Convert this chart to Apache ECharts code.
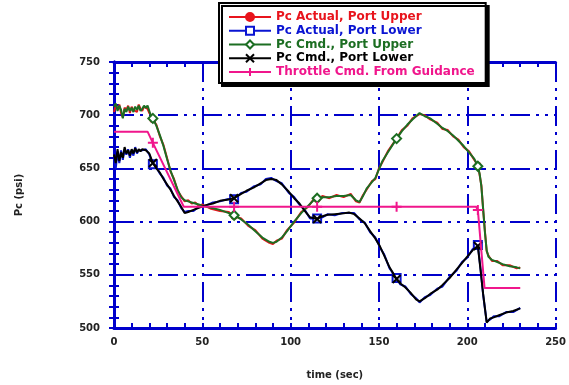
<!DOCTYPE html>
<html>
<head>
<meta charset="utf-8">
<script src="https://cdn.jsdelivr.net/npm/echarts@6/dist/echarts.min.js"></script>
<style>
  html, body { margin: 0; padding: 0; background: #fff; }
  #chart { width: 569px; height: 385px; }
</style>
</head>
<body>
<div id="chart"></div>
<script>
// legend names
var seriesNames = ['Pc Actual, Port Upper', 'Pc Actual, Port Lower', 'Pc Cmd., Port Upper', 'Pc Cmd., Port Lower', 'Throttle Cmd. From Guidance'];
// times where the marker symbols sit
var markerTimes = [22, 68, 115, 160, 206];
var xTicks = [0, 50, 100, 150, 200, 250];
var yTicks = [500, 550, 600, 650, 700, 750];

// [time (sec), Pc (psi)]
var pcActualUpper = [[0,703],[1,709],[2,706],[3,710],[4,702],[5,698],[6,707],[7,705],[8,709],[9,702],[10,708],[11,705],[12,706],[13,703],[14,710],[15,706],[16,704],[17,708],[18,708],[19,706],[20,702],[21,700],[22,696],[24,691],[26,680],[28,672],[30,660],[32,647],[34,640],[36,629],[38,624],[40,619],[42,620],[44,617],[46,618],[48,615],[50,616],[55,612],[60,610],[65,609],[68,605],[72,603],[76,596],[80,592],[84,584],[88,580],[90,579],[92,582],[95,584],[98,592],[102,599],[106,609],[110,614],[113,621],[115,621],[118,624],[122,622],[126,625],[130,623],[134,626],[137,619],[139,618],[141,625],[143,630],[146,638],[148,640],[150,650],[152,656],[155,666],[160,678],[163,686],[166,690],[169,697],[173,701],[176,700],[179,696],[183,693],[186,687],[189,686],[192,680],[195,677],[198,670],[201,666],[204,658],[206,653],[207,644],[208,634],[209,611],[210,591],[211,572],[212,568],[214,563],[217,563],[220,559],[224,559],[228,556],[230,557]];
var pcActualLower = [[0,660],[1,650],[2,666],[3,655],[4,667],[5,658],[6,668],[7,663],[8,668],[9,660],[10,667],[11,662],[12,670],[13,664],[14,667],[15,667],[16,667],[18,668],[20,663],[22,654],[24,651],[26,645],[28,641],[30,634],[32,631],[34,623],[36,620],[38,613],[40,609],[42,610],[45,610],[48,614],[52,615],[56,618],[60,619],[64,621],[68,621],[72,627],[75,628],[79,633],[83,635],[86,640],[89,641],[92,638],[95,636],[99,627],[102,623],[105,616],[108,611],[111,603],[115,603],[118,604],[121,607],[125,606],[129,608],[133,608],[136,608],[139,602],[142,599],[145,590],[148,585],[150.5,576],[153,569],[156,556],[160,547],[162,541],[165,539],[168,532],[171,528],[173,524],[176,529],[179,531],[183,537],[186,539],[190,548],[194,554],[197,562],[200,566],[203,574],[206,578],[207.5,556],[209,531],[211,506],[213,508],[215,511],[218,511],[222,515],[226,515],[230,519]];
var pcCmdUpper = [[0,708],[1,711],[2,704],[3,709],[4,705],[5,697],[6,706],[7,703],[8,708],[9,704],[10,707],[11,703],[12,708],[13,705],[14,709],[15,704],[16,706],[17,709],[18,707],[19,709],[20,704],[21,699],[22,697],[24,690],[26,681],[28,671],[30,659],[32,648],[34,639],[36,630],[38,623],[40,620],[42,619],[44,618],[46,617],[48,616],[50,615],[55,613],[60,611],[65,608],[68,606],[72,602],[76,597],[80,591],[84,585],[88,581],[90,580],[92,581],[95,585],[98,591],[102,600],[106,608],[110,615],[113,620],[115,622],[118,623],[122,623],[126,624],[130,624],[134,625],[137,620],[139,618.5],[141,624],[143,631],[146,637],[148,641],[150,649],[152,657],[155,665],[160,678],[163,685],[166,691],[169,696],[173,702],[176,699],[179,697],[183,692],[186,688],[189,685],[192,681],[195,676],[198,671],[201,665],[204,659],[206,652],[207,645],[208,633],[209,612],[210,590],[211,573],[212,567],[214,564],[217,562],[220,560],[224,558],[228,557],[230,556]];
var pcCmdLower = [[0,663],[1,655],[2,668],[3,657],[4,665],[5,660],[6,670],[7,664],[8,667],[9,662],[10,668],[11,664],[12,669],[13,665],[14,668],[15,666],[16,668],[18,667],[20,664],[22,655],[24,650],[26,646],[28,640],[30,635],[32,630],[34,624],[36,619],[38,614],[40,608],[42,609],[45,611],[48,613],[52,615.5],[56,617],[60,619.5],[64,620.5],[68,622],[72,626],[75,629],[79,632],[83,636],[86,639],[89,640],[92,639],[95,635],[99,628],[102,622],[105,617],[108,610],[111,604],[115,602.5],[118,605],[121,606.5],[125,607],[129,607.5],[133,608.5],[136,607],[139,603],[142,598.5],[145,591],[148,584],[150.5,577],[153,568],[156,557],[160,546],[162,542],[165,538],[168,533],[171,527],[173,525],[176,528],[179,532],[183,536],[186,540.5],[190,547],[194,555],[197,561],[200,567],[203,573],[206,577],[207.5,555],[209,532],[211,505],[213,509],[215,510],[218,512],[222,514.5],[226,516],[230,518.5]];
var throttleCmd = [[0,684.5],[19,684.5],[22,674],[39.5,614],[68,614],[115,614],[160,614],[205,614],[206,611],[209.8,537.5],[230,537.5]];

var colors = ['#e8141c', '#0a14d2', '#1c6e22', '#000000', '#f0168c'];
var symbols = ['circle', 'emptyRect', 'emptyDiamond', 'path://M0,0L10,10M10,0L0,10', 'path://M5,0L5,10M0,5L10,5'];
var symbolSizes = [5, 8, 9, 8, 10];
var seriesData = [pcActualUpper, pcActualLower, pcCmdUpper, pcCmdLower, throttleCmd];

var blue = '#0000cc';
var fontFam = '"DejaVu Sans", sans-serif';
var gridDash = [20, 6, 3, 6, 3, 6];

function withMarkers(points) {
  return points.map(function (p) {
    if (markerTimes.indexOf(p[0]) >= 0) return { value: p };
    return { value: p, symbol: 'none' };
  });
}

var chart = echarts.init(document.getElementById('chart'));

var series = seriesData.map(function (pts, i) {
  return {
    name: seriesNames[i],
    type: 'line',
    data: withMarkers(pts),
    symbol: symbols[i],
    symbolSize: symbolSizes[i],
    showSymbol: true,
    animation: false,
    lineStyle: { color: colors[i], width: 2 },
    itemStyle: { color: colors[i], borderColor: colors[i], borderWidth: 2 },
    emphasis: { disabled: true },
    z: 2 + i
  };
});

var sideAxis = {
  axisLine: { show: true, lineStyle: { color: blue, width: 3 } },
  axisTick: { show: true, inside: true, length: 5, lineStyle: { color: blue, width: 2 } },
  minorTick: { show: true, splitNumber: 5, length: 5, lineStyle: { color: blue, width: 2 } },
  axisLabel: { show: false },
  splitLine: { show: false }
};

var option = {
  backgroundColor: '#fff',
  animation: false,
  grid: { left: 114, top: 62, right: 13, bottom: 51 },
  legend: {
    orient: 'vertical',
    left: 219,
    top: 3,
    padding: [8, 11, 5, 9],
    itemWidth: 42,
    itemHeight: 10,
    itemGap: 1.75,
    backgroundColor: '#fff',
    borderColor: '#000',
    borderWidth: 2,
    shadowColor: '#000',
    shadowOffsetX: 3,
    shadowOffsetY: 3,
    shadowBlur: 0,
    selectedMode: false,
    textStyle: { fontFamily: fontFam, fontWeight: 'bold', fontSize: 12, lineHeight: 10 },
    data: seriesNames.map(function (n, i) {
      return { name: n, textStyle: { color: colors[i] } };
    })
  },
  xAxis: [{
    type: 'value',
    min: xTicks[0],
    max: xTicks[xTicks.length - 1],
    interval: 50,
    name: 'time (sec)',
    nameLocation: 'middle',
    nameGap: 42,
    nameTextStyle: { color: '#222', fontFamily: fontFam, fontWeight: 'bold', fontSize: 10 },
    axisLine: { show: true, onZero: false, lineStyle: { color: blue, width: 3 } },
    axisTick: { show: true, inside: true, length: 5, lineStyle: { color: blue, width: 2 } },
    minorTick: { show: true, splitNumber: 5, length: 5, lineStyle: { color: blue, width: 2 } },
    axisLabel: { color: '#222', fontFamily: fontFam, fontWeight: 'bold', fontSize: 10, margin: 9 },
    splitLine: { show: true, lineStyle: { color: blue, width: 2, type: gridDash } }
  }, Object.assign({
    type: 'value', position: 'top', min: xTicks[0], max: xTicks[xTicks.length - 1], interval: 50
  }, sideAxis)],
  yAxis: [{
    type: 'value',
    min: yTicks[0],
    max: yTicks[yTicks.length - 1],
    interval: 50,
    name: 'Pc (psi)',
    nameLocation: 'middle',
    nameGap: 90,
    nameRotate: 90,
    nameTextStyle: { color: '#222', fontFamily: fontFam, fontWeight: 'bold', fontSize: 10 },
    axisLine: { show: true, onZero: false, lineStyle: { color: blue, width: 3 } },
    axisTick: { show: true, inside: true, length: 5, lineStyle: { color: blue, width: 2 } },
    minorTick: { show: true, splitNumber: 5, length: 5, lineStyle: { color: blue, width: 2 } },
    axisLabel: { color: '#222', fontFamily: fontFam, fontWeight: 'bold', fontSize: 10, margin: 14 },
    splitLine: { show: true, lineStyle: { color: blue, width: 2, type: gridDash } }
  }, Object.assign({
    type: 'value', position: 'right', min: yTicks[0], max: yTicks[yTicks.length - 1], interval: 50
  }, sideAxis)],
  series: series
};

chart.setOption(option);
</script>
</body>
</html>
